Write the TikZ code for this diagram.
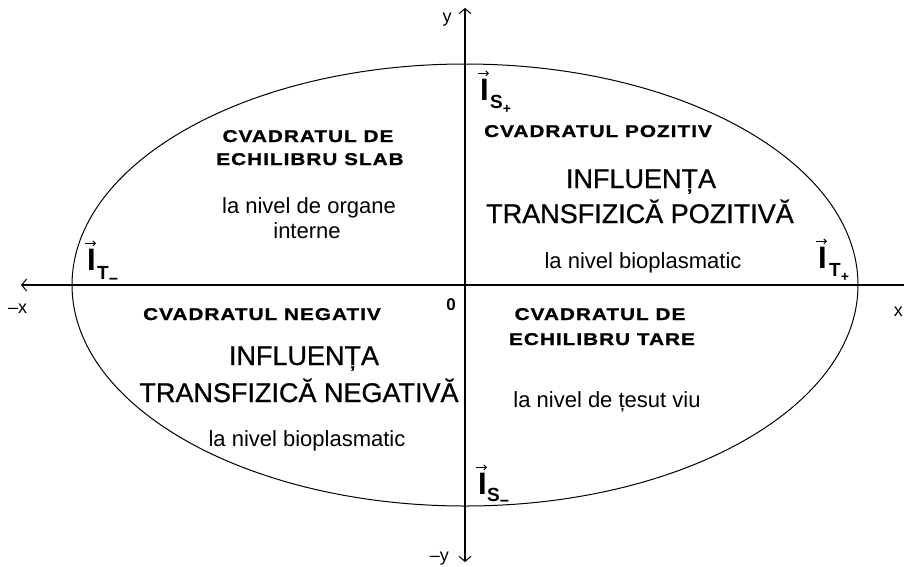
\documentclass[tikz,border=0pt]{standalone}
\usepackage{fontspec}
\setmainfont{Liberation Sans}
\newfontfamily\capsfont[FakeStretch=1.22,LetterSpace=6,FakeBold=1.2]{Liberation Sans Bold}
\newfontfamily\bigfont[FakeBold=0.8]{Liberation Sans}
\newfontfamily\subfont{Liberation Sans Bold}
\usetikzlibrary{arrows.meta}
\newcommand\plussub{\raisebox{-5pt}{\fontsize{14}{14}\selectfont +}}
\newcommand\minussub{\raisebox{-5pt}{\fontsize{16}{16}\selectfont −}}
\begin{document}
\begin{tikzpicture}[x=1pt,y=-1pt,
  axisline/.style={line width=1.2pt,{Straight Barb[length=5pt,width=12pt,line width=1pt]}-{Straight Barb[length=5pt,width=12pt,line width=1pt]}},
  ell/.style={line width=1pt},
  head/.style={font=\capsfont\fontsize{17}{19}\selectfont, inner sep=0pt, anchor=base},
  big/.style={font=\bigfont\fontsize{27}{30}\selectfont, inner sep=0pt, anchor=base},
  small/.style={font=\fontsize{22}{24}\selectfont, inner sep=0pt, anchor=base},
  axlabel/.style={font=\fontsize{18}{20}\selectfont, inner sep=0pt, anchor=base},
  vI/.style={font=\subfont\fontsize{31}{31}\selectfont, inner sep=0pt, anchor=base west},
  vsub/.style={font=\subfont\fontsize{19}{19}\selectfont, inner sep=0pt, anchor=base west},
  vecarrow/.style={line width=1.4pt,-{Straight Barb[length=2.5pt,width=5pt,line width=1pt]}},
  zero/.style={font=\subfont\fontsize{17}{17}\selectfont, inner sep=0pt, anchor=base}
]
\useasboundingbox (0,0) rectangle (904,566);
\fill[white] (0,0) rectangle (904,566);

% ellipse and axes
\coordinate (O) at (465,285);
\draw[ell] (O) ellipse [x radius=393, y radius=221];
\coordinate (xl) at (21,285);
\coordinate (xr) at (910,285);
\coordinate (yt) at (465,8);
\coordinate (yb) at (465,562);
\draw[axisline] (xl) -- (xr);
\draw[axisline] (yb) -- (yt);

% axis labels
\node[axlabel] (ly) at (447,22) {y};
\node[axlabel, anchor=base west] (lmx) at (8,313) {–x};
\node[axlabel, anchor=base east] (lmy) at (449,561) {–y};
\node[axlabel, anchor=base east] (lx) at (903,316) {x};
\node[zero] (zero) at (451,310) {0};

% vectors
\node[vI] (iSp) at (480,100) {I};
\node[vsub] (sSp) at (490,108) {S\plussub};
\draw[vecarrow] ([shift={(-2,-5)}]iSp.north west) -- ++(11,0);

\node[vI] (iTm) at (87,270) {I};
\node[vsub] (sTm) at (97,279) {T\minussub};
\draw[vecarrow] ([shift={(-2,-5)}]iTm.north west) -- ++(11,0);

\node[vI] (iTp) at (818,268) {I};
\node[vsub] (sTp) at (829,276) {T\plussub};
\draw[vecarrow] ([shift={(-2,-5)}]iTp.north west) -- ++(11,0);

\node[vI] (iSm) at (478,494) {I};
\node[vsub] (sSm) at (487,501) {S\minussub};
\draw[vecarrow] ([shift={(-2,-5)}]iSm.north west) -- ++(11,0);

% quadrant upper left
\node[head] (ul1) at (308,142) {CVADRATUL DE};
\node[head] (ul2) at (310,165) {ECHILIBRU SLAB};
\node[small] (ul3) at (309,213) {la nivel de organe};
\node[small] (ul4) at (307,238) {interne};

% quadrant upper right
\node[head] (ur1) at (598,137) {CVADRATUL POZITIV};
\node[big] (ur2) at (641,188) {INFLUENȚA};
\node[big] (ur3) at (640,223) {TRANSFIZICĂ POZITIVĂ};
\node[small] (ur4) at (643,268) {la nivel bioplasmatic};

% quadrant lower left
\node[head] (ll1) at (262,320) {CVADRATUL NEGATIV};
\node[big] (ll2) at (304,365) {INFLUENȚA};
\node[big] (ll3) at (299,402) {TRANSFIZICĂ NEGATIVĂ};
\node[small] (ll4) at (307,446) {la nivel bioplasmatic};

% quadrant lower right
\node[head] (lr1) at (600,320) {CVADRATUL DE};
\node[head] (lr2) at (602,345) {ECHILIBRU TARE};
\node[small] (lr3) at (607,407) {la nivel de țesut viu};
\end{tikzpicture}
\end{document}
